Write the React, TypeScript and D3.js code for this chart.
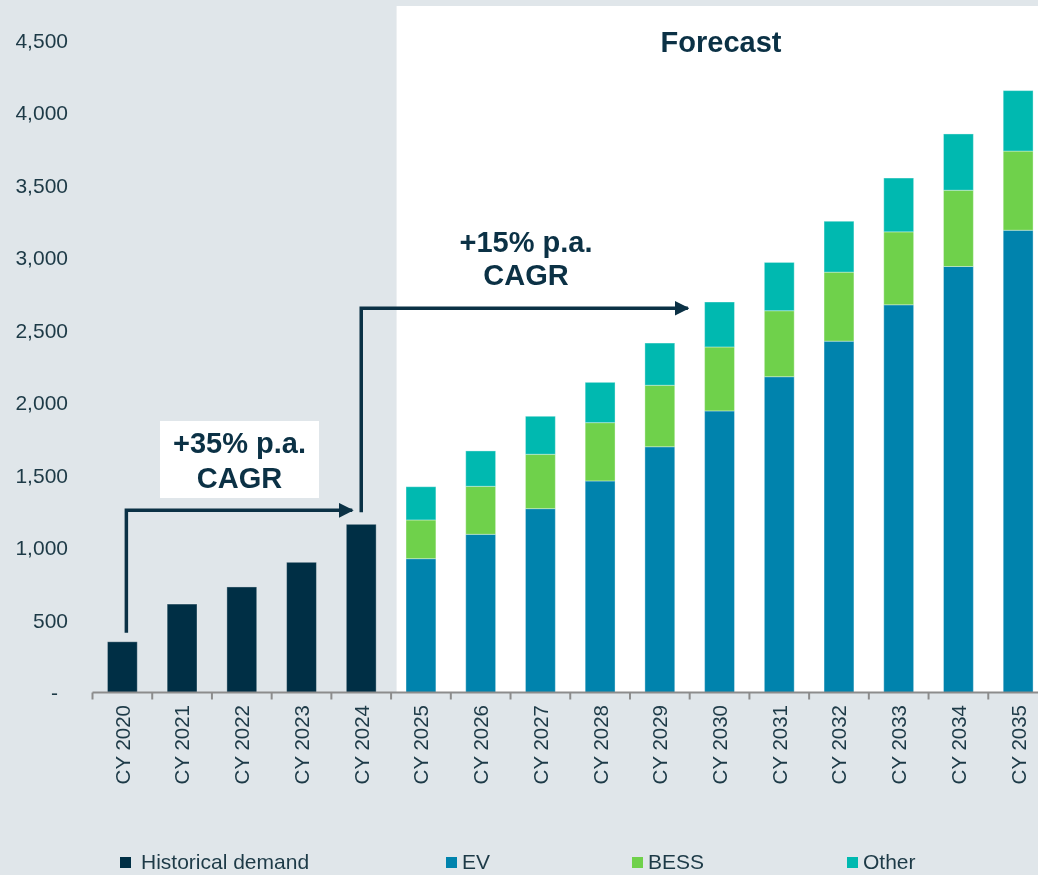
import React from "react";
import * as d3 from "d3";

// data
const years = [
  "CY 2020", "CY 2021", "CY 2022", "CY 2023", "CY 2024", "CY 2025", "CY 2026", "CY 2027",
  "CY 2028", "CY 2029", "CY 2030", "CY 2031", "CY 2032", "CY 2033", "CY 2034", "CY 2035",
];
const historical = [350, 610, 728, 898, 1160, 0, 0, 0, 0, 0, 0, 0, 0, 0, 0, 0];
const ev = [0, 0, 0, 0, 0, 923, 1091, 1268, 1459, 1695, 1942, 2178, 2423, 2674, 2938, 3188];
const bess = [0, 0, 0, 0, 0, 267, 331, 375, 402, 424, 441, 455, 476, 503, 526, 546];
const other = [0, 0, 0, 0, 0, 229, 244, 262, 278, 291, 310, 333, 351, 371, 388, 417];
const yTicks = [0, 500, 1000, 1500, 2000, 2500, 3000, 3500, 4000, 4500];

const seriesKeys = ["historical", "ev", "bess", "other"];
const seriesNames = ["Historical demand", "EV", "BESS", "Other"];
const colors = ["#002f45", "#0083ad", "#6fd14b", "#00b9b0"];

const W = 1038;
const H = 875;
const font = "'Liberation Sans', Arial, sans-serif";
const ink = "#0b3145";

function App() {
  const x = d3
    .scaleBand()
    .domain(years)
    .range([92.5, 1048])
    .paddingInner(0.5)
    .paddingOuter(0.25);
  const y = d3.scaleLinear().domain([0, 4500]).range([692.5, 40]);
  const step = x.step();
  const edge = (d: string) => (x(d) as number) - step * 0.25;
  const mid = (d: string) => (x(d) as number) + x.bandwidth() / 2;

  const table = years.map((yr, i) => ({
    year: yr,
    historical: historical[i],
    ev: ev[i],
    bess: bess[i],
    other: other[i],
  }));
  const stacked = d3.stack<any>().keys(seriesKeys)(table);

  const fmt = (v: number) => (v === 0 ? "-" : d3.format(",")(v));
  const legendX = [120, 446, 632, 847];

  // annotation anchors
  const a1x = mid("CY 2020") + 4;
  const a1y = y(1160) - 14;
  const a2x = mid("CY 2024");
  const a2top = y(2650);

  return (
    <div style={{ position: "fixed", left: 0, top: 0 }}>
      <svg width={W} height={H} style={{ display: "block", fontFamily: font }}>
        <defs>
          <marker id="ah" viewBox="0 0 10 10" refX="9" refY="5" markerWidth="4.2" markerHeight="4.2" orient="auto" markerUnits="strokeWidth">
            <path d="M0,0 L10,5 L0,10 z" fill={ink} />
          </marker>
        </defs>
        <rect x={0} y={0} width={W} height={H} fill="#e0e6ea" />
        <rect x={edge("CY 2025") + 5.5} y={6} width={W} height={y(0) - 6} fill="#ffffff" />

        {/* y axis labels */}
        {yTicks.map((t) => (
          <text key={t} x={t === 0 ? 58 : 68} y={y(t)} dy="0.36em" textAnchor="end" fontSize={21} fill="#1d3a47">
            {fmt(t)}
          </text>
        ))}

        {/* bars */}
        {stacked.map((s, si) => (
          <g key={s.key} fill={colors[si]}>
            {s.map((d: any, i: number) =>
              d[1] - d[0] > 0 ? (
                <rect
                  key={i}
                  x={x(years[i])}
                  y={y(d[1])}
                  width={x.bandwidth()}
                  height={y(d[0]) - y(d[1])}
                  stroke="#ffffff"
                  strokeOpacity={0.35}
                  strokeWidth={1}
                />
              ) : null
            )}
          </g>
        ))}

        {/* x axis */}
        <line x1={edge(years[0])} x2={W} y1={y(0)} y2={y(0)} stroke="#8c8c8c" strokeWidth={2} />
        {years.map((d) => (
          <line key={d} x1={edge(d)} x2={edge(d)} y1={y(0)} y2={y(0) + 7} stroke="#8c8c8c" strokeWidth={2} />
        ))}
        {years.map((d) => (
          <text
            key={d}
            transform={`translate(${mid(d)},${705}) rotate(-90)`}
            dy="0.36em"
            textAnchor="end"
            fontSize={20.5}
            fill="#1d3a47"
          >
            {d}
          </text>
        ))}

        {/* Forecast label */}
        <text x={721} y={52} textAnchor="middle" fontSize={29} fontWeight="bold" fill={ink}>
          Forecast
        </text>

        {/* +35% annotation */}
        <path
          d={`M${a1x},${y(350) - 9} V${a1y} H${a2x - 9}`}
          fill="none"
          stroke={ink}
          strokeWidth={3.5}
          markerEnd="url(#ah)"
        />
        <rect x={160} y={421} width={159} height={77} fill="#ffffff" />
        <text x={239.5} y={453} textAnchor="middle" fontSize={29} fontWeight="bold" fill={ink}>
          +35% p.a.
        </text>
        <text x={239.5} y={488} textAnchor="middle" fontSize={29} fontWeight="bold" fill={ink}>
          CAGR
        </text>

        {/* +15% annotation */}
        <path
          d={`M${a2x},${y(1160) - 12} V${a2top} H${mid("CY 2029") + 28}`}
          fill="none"
          stroke={ink}
          strokeWidth={3.5}
          markerEnd="url(#ah)"
        />
        <text x={526} y={252} textAnchor="middle" fontSize={29} fontWeight="bold" fill={ink}>
          +15% p.a.
        </text>
        <text x={526} y={285} textAnchor="middle" fontSize={29} fontWeight="bold" fill={ink}>
          CAGR
        </text>

        {/* legend */}
        {seriesNames.map((n, i) => (
          <g key={n}>
            <rect x={legendX[i]} y={857} width={11} height={11} fill={colors[i]} />
            <text x={legendX[i] + (i === 0 ? 21 : 16)} y={869} fontSize={21} fill="#1d3a47">
              {n}
            </text>
          </g>
        ))}
      </svg>
    </div>
  );
}

export default App;
